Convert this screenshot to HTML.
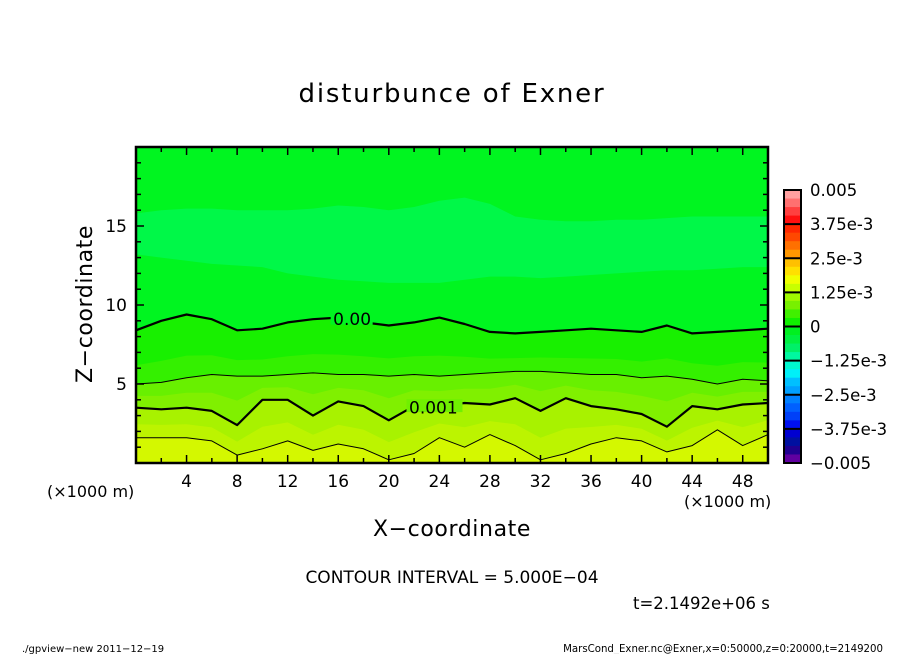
<!DOCTYPE html>
<html><head><meta charset="utf-8">
<style>
html,body{margin:0;padding:0;background:#fff;}
svg{display:block;font-family:"DejaVu Sans","Liberation Sans",sans-serif;}
</style></head>
<body>
<svg id="chart" width="904" height="654" viewBox="0 0 904 654" xmlns="http://www.w3.org/2000/svg">
<rect x="0" y="0" width="904" height="654" fill="#ffffff"/>
<text x="452" y="102" text-anchor="middle" font-size="26" letter-spacing="1.8">disturbunce of Exner</text>
<g id="plot"></g>
<g id="axes"></g>
<g id="cbar"></g>
<text x="452" y="536" text-anchor="middle" font-size="22" letter-spacing="0.6">X−coordinate</text>
<text transform="translate(92,304) rotate(-90)" text-anchor="middle" font-size="22" letter-spacing="0.6">Z−coordinate</text>
<text x="47" y="497" font-size="16">(×1000 m)</text>
<text x="684" y="507" font-size="16">(×1000 m)</text>
<text x="452" y="583" text-anchor="middle" font-size="17">CONTOUR INTERVAL = 5.000E−04</text>
<text x="633" y="609" font-size="16.5">t=2.1492e+06 s</text>
<text x="22" y="652" font-size="10">./gpview−new   2011−12−19</text>
<text x="883" y="652" text-anchor="end" font-size="10.2">MarsCond_Exner.nc@Exner,x=0:50000,z=0:20000,t=2149200</text>
</svg>
<script>
// data: x positions (x1000 m) and contour heights (km)
const xs = [0,2,4,6,8,10,12,14,16,18,20,22,24,26,28,30,32,34,36,38,40,42,44,46,48,50];
const c000 = [8.4,9.0,9.4,9.1,8.4,8.5,8.9,9.1,9.2,8.9,8.7,8.9,9.2,8.8,8.3,8.2,8.3,8.4,8.5,8.4,8.3,8.7,8.2,8.3,8.4,8.5];
const c0005 = [5.0,5.1,5.4,5.6,5.5,5.5,5.6,5.7,5.6,5.6,5.5,5.6,5.5,5.6,5.7,5.8,5.8,5.7,5.6,5.6,5.4,5.5,5.3,5.0,5.3,5.2];
const c001 = [3.5,3.4,3.5,3.3,2.4,4.0,4.0,3.0,3.9,3.6,2.7,3.6,3.6,3.8,3.7,4.1,3.3,4.1,3.6,3.4,3.1,2.3,3.6,3.4,3.7,3.8];
const c0015 = [1.6,1.6,1.6,1.4,0.5,0.9,1.4,0.8,1.2,0.9,0.2,0.6,1.6,1.0,1.8,1.1,0.2,0.6,1.2,1.6,1.4,0.7,1.1,2.1,1.1,1.8];
const blobLow = [13.2,13.0,12.8,12.6,12.5,12.4,12.0,11.8,11.6,11.5,11.4,11.4,11.4,11.6,11.8,11.8,11.7,11.8,11.9,12.0,12.1,12.2,12.2,12.3,12.4,12.4];
const blobHigh = [15.8,16.0,16.1,16.1,16.0,16.0,16.0,16.1,16.3,16.2,16.0,16.2,16.6,16.8,16.4,15.6,15.4,15.3,15.3,15.4,15.4,15.5,15.6,15.6,15.6,15.6];
const cbLevels = ["0.005","3.75e-3","2.5e-3","1.25e-3","0","−1.25e-3","−2.5e-3","−3.75e-3","−0.005"];
const cbColors = ["#ffa0a0","#ff7070","#ff4040","#ff1010","#ff2800","#ff4800","#ff7000","#ff9800","#ffc000","#ffe000","#f0ff00","#c8ff00","#a0f800","#78f000","#40f000","#10f000","#00f020","#00f040","#00f068","#00f8a0","#00f8d0","#00f0f8","#00c0ff","#00a0ff","#0080ff","#0060ff","#0040f8","#0010f0","#0000d0","#0010a0","#200090","#6000a0"];

const X0=136,X1=768,Y0=463,Y1=147;
const sx = v => X0 + (v/50)*(X1-X0);
const sz = v => Y0 - (v/20)*(Y0-Y1);
const NS="http://www.w3.org/2000/svg";
function mk(tag, attrs, parent){const e=document.createElementNS(NS,tag);for(const k in attrs)e.setAttribute(k,attrs[k]);parent.appendChild(e);return e;}
function linePts(arr){return xs.map((x,i)=>sx(x).toFixed(1)+","+sz(arr[i]).toFixed(1)).join(" ");}
function bandBetween(lo,hi){
  const top = hi ? xs.map((x,i)=>[sx(x),sz(hi[i])]) : [[X0,Y1],[X1,Y1]];
  const bot = lo ? xs.map((x,i)=>[sx(x),sz(lo[i])]).reverse() : [[X1,Y0],[X0,Y0]];
  return top.concat(bot).map(p=>p[0].toFixed(1)+","+p[1].toFixed(1)).join(" ");}
const plot=document.getElementById('plot');
const bands=[
  [c000,null,"#00f520"],
  [c0005,c000,"#18f000"],
  [c001,c0005,"#68f000"],
  [c0015,c001,"#a8f200"],
  [null,c0015,"#d4f800"]];
bands.forEach(b=>{
  const p=mk('polygon',{points:bandBetween(b[0],b[1]),fill:b[2]},plot);
  
  
});
const subBands=[[c0005,c000,0.35,"#34f000"],[c001,c0005,0.5,"#80f000"],[c0015,c001,0.45,"#bcf400"]];
subBands.forEach(s=>{
  const mid=s[0].map((v,i)=>v+(s[1][i]-v)*s[2]);
  const p=mk('polygon',{points:bandBetween(s[0],mid),fill:s[3]},plot);
  
  
});
const bl=mk('polygon',{points:bandBetween(blobLow,blobHigh),fill:"#00f848"},plot);


[[c000,2.2],[c0005,1],[c001,2.2],[c0015,1]].forEach(c=>{
  const l=mk('polyline',{points:linePts(c[0]),fill:"none",stroke:"#000","stroke-width":c[1],"stroke-linejoin":"round"},plot);
  
  
});
const lab1=mk('rect',{x:sx(15.4),y:sz(9.2)-8,width:42,height:15,fill:"#00f520"},plot);


const t1=mk('text',{x:sx(15.6),y:sz(9.1)+6,"font-size":17},plot);t1.textContent="0.00";


const lab2=mk('rect',{x:sx(21.4),y:sz(3.6)-7,width:56,height:13,fill:"#70f000"},plot);


const t2=mk('text',{x:sx(21.6),y:sz(3.5)+6,"font-size":17},plot);t2.textContent="0.001";



const ax=document.getElementById('axes');
const fr=mk('rect',{x:X0,y:Y1,width:X1-X0,height:Y0-Y1,fill:"none",stroke:"#000","stroke-width":2.5},ax);


for(let v=2;v<50;v+=2){
  const L=(v%4===0)?8:5,x=sx(v);
  mk('line',{x1:x,y1:Y0,x2:x,y2:Y0-L,stroke:"#000","stroke-width":1.5},ax);
  mk('line',{x1:x,y1:Y1,x2:x,y2:Y1+L,stroke:"#000","stroke-width":1.5},ax);
  if(v%4===0){const t=mk('text',{x:x,y:487,"text-anchor":"middle","font-size":17},ax);t.textContent=v;
    
    }
}
for(let v=1;v<20;v++){
  const L=(v%5===0)?8:5,y=sz(v);
  mk('line',{x1:X0,y1:y,x2:X0+L,y2:y,stroke:"#000","stroke-width":1.5},ax);
  mk('line',{x1:X1,y1:y,x2:X1-L,y2:y,stroke:"#000","stroke-width":1.5},ax);
  if(v%5===0){const t=mk('text',{x:127,y:y+6,"text-anchor":"end","font-size":17},ax);t.textContent=v;
    
    }
}
const cb=document.getElementById('cbar');
const CX=784,CW=17,CT=190,CB=463,n=cbColors.length,h=(CB-CT)/n;
cbColors.forEach((c,i)=>{const r=mk('rect',{x:CX,y:CT+i*h,width:CW,height:h+0.5,fill:c},cb);
  
  });
mk('rect',{x:CX,y:CT,width:CW,height:CB-CT,fill:"none",stroke:"#000","stroke-width":2},cb);
cbLevels.forEach((s,i)=>{const y=CT+i*(CB-CT)/(cbLevels.length-1);
  mk('line',{x1:CX,y1:y,x2:CX+CW,y2:y,stroke:"#000","stroke-width":2},cb);
  const t=mk('text',{x:810,y:y+6,"font-size":16.5},cb);t.textContent=s;
  
  });
</script>
</body></html>
